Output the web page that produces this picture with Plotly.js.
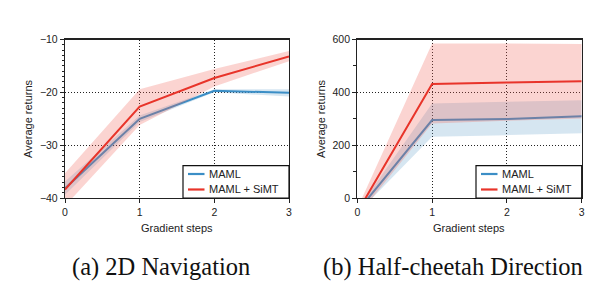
<!DOCTYPE html>
<html><head><meta charset="utf-8">
<script src="https://cdn.plot.ly/plotly-3.0.1.min.js"></script>
<style>html,body{margin:0;padding:0;background:#fff}#chart{width:600px;height:302px}</style>
</head><body><div id="chart"></div>
<script>
// ---- data ----
const steps = [0, 1, 2, 3];
const seriesNames = ['MAML', 'MAML + SiMT'];

const navMaml   = [-38.2, -25.0, -19.7, -20.1];
const navMamlLo = [-39.4, -25.6, -20.0, -20.8];
const navMamlHi = [-36.9, -24.4, -19.4, -19.4];
const navSimt   = [-38.4, -22.7, -17.3, -13.2];
const navSimtLo = [-41.5, -26.2, -18.9, -14.1];
const navSimtHi = [-35.3, -19.4, -15.6, -12.2];

const chMaml   = [-51, 295, 299, 309];
const chMamlLo = [-58, 232, 238, 245];
const chMamlHi = [-45, 358, 364, 370];
const chSimt   = [-54, 432, 437, 442];
const chSimtLo = [-70, 282, 292, 301];
const chSimtHi = [-40, 585, 585, 583];

const captions = ['(a) 2D Navigation', '(b) Half-cheetah Direction'];
const xTitle = 'Gradient steps';
const yTitle = 'Average returns';

// ---- styles ----
const BLUE = '#3b8ec6', RED = '#e8342a';
const BLUE_BAND = 'rgba(95,160,200,0.26)', RED_BAND = 'rgba(240,95,85,0.27)';
const W = 600, H = 302;
const px = x => x / W, py = y => (H - y) / H;

function bandTraces(lo, hi, color, xa, ya) {
  return [
    {x: steps, y: lo, type: 'scatter', mode: 'lines', line: {width: 0, color: color}, showlegend: false, hoverinfo: 'skip', xaxis: xa, yaxis: ya},
    {x: steps, y: hi, type: 'scatter', mode: 'lines', line: {width: 0, color: color}, fill: 'tonexty', fillcolor: color, showlegend: false, hoverinfo: 'skip', xaxis: xa, yaxis: ya}
  ];
}
function lineTrace(y, color, name, xa, ya) {
  return {x: steps, y: y, type: 'scatter', mode: 'lines', name: name, line: {color: color, width: 2}, showlegend: false, xaxis: xa, yaxis: ya};
}

const data = [
  ...bandTraces(navMamlLo, navMamlHi, BLUE_BAND, 'x', 'y'),
  lineTrace(navMaml, BLUE, seriesNames[0], 'x', 'y'),
  ...bandTraces(navSimtLo, navSimtHi, RED_BAND, 'x', 'y'),
  lineTrace(navSimt, RED, seriesNames[1], 'x', 'y'),
  ...bandTraces(chMamlLo, chMamlHi, BLUE_BAND, 'x2', 'y2'),
  lineTrace(chMaml, BLUE, seriesNames[0], 'x2', 'y2'),
  ...bandTraces(chSimtLo, chSimtHi, RED_BAND, 'x2', 'y2'),
  lineTrace(chSimt, RED, seriesNames[1], 'x2', 'y2'),
];

const tickFont = {family: 'Liberation Sans, Arial, sans-serif', size: 10.5, color: '#222'};
const gridStyle = {showgrid: true, gridcolor: '#222', griddash: '1px,2px', gridwidth: 1};
const axisCommon = Object.assign({
  showline: true, linecolor: '#222', linewidth: 1.2, mirror: true, zeroline: false,
  ticks: 'outside', ticklen: 4, tickcolor: '#222', tickwidth: 1, tickfont: tickFont
}, gridStyle);

const yTop = 39.5, yBot = 198;
const xd1 = [px(65), px(289)], xd2 = [px(357.3), px(581.7)];
const yd = [py(yBot), py(yTop)];

const layout = {
  width: W, height: H, margin: {l: 0, r: 0, t: 0, b: 0},
  paper_bgcolor: '#fff', plot_bgcolor: '#fff', showlegend: false,
  xaxis: Object.assign({}, axisCommon, {domain: xd1, range: [0, 3], dtick: 1, anchor: 'y'}),
  yaxis: Object.assign({}, axisCommon, {domain: yd, range: [-40, -10], dtick: 10, anchor: 'x',
    minor: {dtick: 1, ticks: 'outside', ticklen: 2, tickcolor: '#222', showgrid: false}}),
  xaxis2: Object.assign({}, axisCommon, {domain: xd2, range: [0, 3], dtick: 1, anchor: 'y2'}),
  yaxis2: Object.assign({}, axisCommon, {domain: yd, range: [0, 600], dtick: 200, anchor: 'x2',
    minor: {dtick: 100, ticks: 'outside', ticklen: 3, tickcolor: '#222', showgrid: false}}),
  shapes: [], annotations: []
};

const labFont = {family: 'Liberation Sans, Arial, sans-serif', size: 11, color: '#222'};
const capFont = {family: 'Liberation Serif, Times New Roman, serif', size: 24.5, color: '#111'};

// axis titles and captions
[[xd1, 28, 176.7, 160.5], [xd2, 321, 469, 453.3]].forEach((c, i) => {
  layout.annotations.push({xref: 'paper', yref: 'paper', x: px(c[1]), y: py(119), text: yTitle, showarrow: false, textangle: -90, font: labFont, xanchor: 'center', yanchor: 'middle'});
  layout.annotations.push({xref: 'paper', yref: 'paper', x: px(c[2]), y: py(228), text: xTitle, showarrow: false, font: labFont, xanchor: 'center', yanchor: 'middle'});
  layout.annotations.push({xref: 'paper', yref: 'paper', x: px(c[3]), y: py(267), text: captions[i], showarrow: false, font: capFont, xanchor: 'center', yanchor: 'middle'});
});

// legends (drawn as boxes)
[[183, 289], [476, 581.7]].forEach(b => {
  const x0 = b[0], x1 = b[1], y0 = 165.7, y1 = 198;
  layout.shapes.push({type: 'rect', xref: 'paper', yref: 'paper', x0: px(x0), x1: px(x1), y0: py(y1), y1: py(y0), line: {color: '#111', width: 1.2}, fillcolor: '#fff', layer: 'above'});
  [[174, BLUE, seriesNames[0]], [189.5, RED, seriesNames[1]]].forEach(it => {
    layout.shapes.push({type: 'line', xref: 'paper', yref: 'paper', x0: px(x0 + 5), x1: px(x0 + 21.5), y0: py(it[0]), y1: py(it[0]), line: {color: it[1], width: 2.2}, layer: 'above'});
    layout.annotations.push({xref: 'paper', yref: 'paper', x: px(x0 + 24), y: py(it[0]), text: it[2], showarrow: false, font: labFont, xanchor: 'left', yanchor: 'middle'});
  });
});

Plotly.newPlot('chart', data, layout, {staticPlot: true, displayModeBar: false});
</script></body></html>
